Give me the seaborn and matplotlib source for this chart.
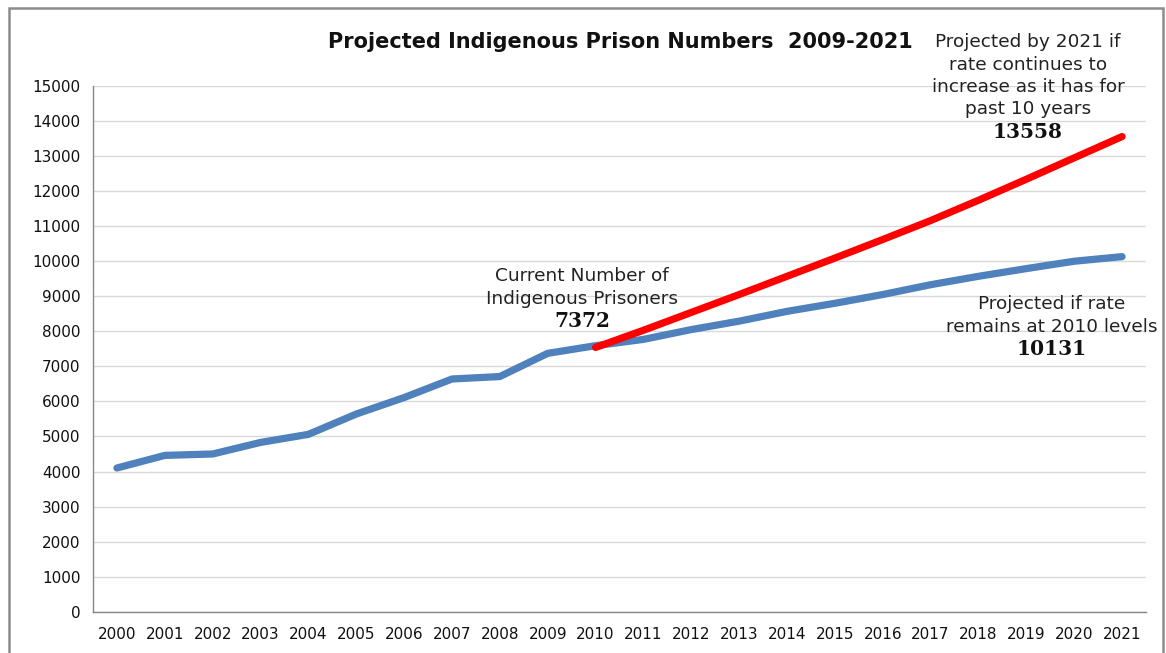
import matplotlib
matplotlib.use("Agg")
import matplotlib.pyplot as plt
from matplotlib.patches import Rectangle
from matplotlib.ticker import FixedLocator
import seaborn as sns
import pandas as pd

# Recorded and projected counts (2000-2021)
years = list(range(2000, 2022))
current_rate = [4100, 4460, 4500, 4830, 5060, 5640, 6110, 6640, 6710, 7372, 7590,
                7770, 8050, 8290, 8570, 8800, 9050, 9330, 9570, 9790, 10000, 10131]
# Continued-increase projection from 2010
growth_years = list(range(2010, 2022))
growth_rate = [7540, 8030, 8540, 9050, 9570, 10090, 10620, 11160, 11740, 12340, 12950, 13558]

y_ticks = list(range(0, 15001, 1000))

title = "Projected Indigenous Prison Numbers  2009-2021"
note_growth = ["Projected by 2021 if", "rate continues to", "increase as it has for", "past 10 years"]
note_current = ["Current Number of", "Indigenous Prisoners"]
note_flat = ["Projected if rate", "remains at 2010 levels"]

sns.set_theme(style="white")
plt.rcParams["font.family"] = ["DejaVu Sans"]

W, H = 1166, 653
fig = plt.figure(figsize=(W / 100, H / 100), dpi=100)
ax = fig.add_axes([93 / W, 1 - 611.7 / H, (1146 - 93) / W, (611.7 - 86) / H])

df_blue = pd.DataFrame({"year": years, "count": current_rate})
df_red = pd.DataFrame({"year": growth_years, "count": growth_rate})

sns.lineplot(data=df_blue, x="year", y="count", ax=ax, color="#4F81BD",
             linewidth=5.2, solid_capstyle="round", solid_joinstyle="round", zorder=3)
sns.lineplot(data=df_red, x="year", y="count", ax=ax, color="#FF0000",
             linewidth=5.2, solid_capstyle="round", solid_joinstyle="round", zorder=4)

ax.set_xlim(years[0] - 0.5, years[-1] + 0.5)
ax.set_ylim(0, 15000)
ax.set_xlabel("")
ax.set_ylabel("")

ax.set_yticks(y_ticks)
ax.set_yticklabels([str(v) for v in y_ticks])
ax.yaxis.grid(True, color="#d9d9d9", linewidth=1.0)
ax.xaxis.grid(False)
ax.set_axisbelow(True)

ax.set_xticks(years)
ax.set_xticklabels([str(y) for y in years])
ax.xaxis.set_minor_locator(FixedLocator([y - 0.5 for y in years] + [years[-1] + 0.5]))

for s in ["top", "right"]:
    ax.spines[s].set_visible(False)
for s in ["left", "bottom"]:
    ax.spines[s].set_color("#868686")
    ax.spines[s].set_linewidth(1.0)

ax.tick_params(axis="x", which="major", length=0, pad=11, labelsize=11, labelcolor="#111111")
ax.tick_params(axis="x", which="minor", length=4, width=1, color="#868686", direction="out")
ax.tick_params(axis="y", which="major", length=5, width=1, color="#868686", direction="out",
               pad=4, labelsize=11, labelcolor="#111111")

# Outer frame
fig.patches.append(Rectangle((9 / W, -0.02), (1163 - 9) / W, 1.02 - 8 / H,
                             transform=fig.transFigure, fill=False,
                             edgecolor="#8c8c8c", linewidth=1.8, zorder=0))

def px(x, y):
    return x / W, 1 - y / H

fig.text(*px(620, 42), title, ha="center", va="center", fontsize=15,
         fontweight="bold", color="#111111")

def block(cx, y0, lines, value, step=22.5):
    for i, line in enumerate(lines):
        fig.text(*px(cx, y0 + i * step), line, ha="center", va="center",
                 fontsize=13.3, color="#222222")
    fig.text(*px(cx, y0 + len(lines) * step), str(value), ha="center", va="center",
             fontsize=14.5, family="DejaVu Serif", fontweight="bold", color="#111111")

block(1028, 42, note_growth, growth_rate[-1])
block(582, 276, note_current, current_rate[years.index(2009)])
block(1052, 304, note_flat, current_rate[-1])

fig.savefig("out.png", dpi=100)
